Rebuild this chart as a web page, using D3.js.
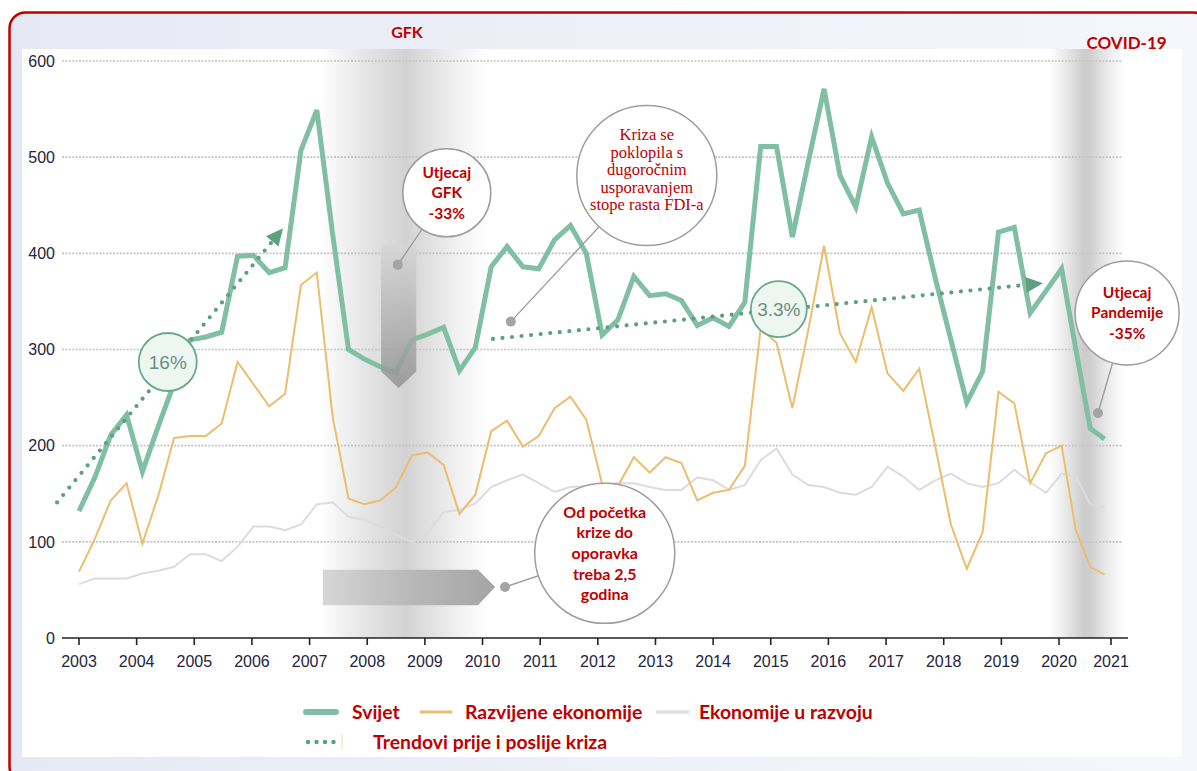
<!DOCTYPE html>
<html>
<head>
<meta charset="utf-8">
<script src="https://cdn.jsdelivr.net/npm/d3@7"></script>
<style>
  body { margin: 0; background: #fff; }
  svg { display: block; }
</style>
</head>
<body>
<svg width="1197" height="771"></svg>
<script>
// data: quarterly FDI flows (bn USD)
var startYear = 2003;
var stepYears = 0.275;   // spacing of observations along the axis
var svijet = [132, 167, 211, 232, 173, 220, 265, 310, 313, 318, 397, 398, 380, 385, 507, 549,
    420, 300, 290, 282, 276, 310, 316, 323, 278, 302, 386, 407, 386, 384, 414, 429,
    400, 315, 331, 376, 356, 358, 351, 325, 333, 324, 349, 511, 511, 417, 495, 571,
    481, 448, 521, 473, 441, 445, 375, 310, 245, 277, 422, 427, 338, 361, 384, 300,
    218, 207];
var razvijene = [69, 103, 143, 161, 98, 148, 208, 210, 210, 223, 287, 264, 241, 254, 367, 380,
    230, 145, 139, 143, 157, 190, 193, 180, 129, 149, 215, 226, 199, 210, 239, 251,
    227, 160, 158, 188, 172, 188, 182, 143, 151, 154, 179, 322, 307, 239, 320, 408,
    317, 287, 344, 275, 257, 280, 200, 118, 72, 110, 256, 244, 161, 192, 200, 112,
    74, 66];
var uRazvoju = [56, 62, 62, 62, 67, 70, 74, 87, 87, 80, 95, 116, 116, 112, 118, 139,
    141, 126, 123, 116, 107, 100, 109, 131, 133, 140, 157, 164, 170, 161, 152, 157,
    158, 160, 161, 161, 157, 154, 154, 167, 164, 154, 159, 185, 197, 170, 159, 157,
    151, 149, 157, 178, 168, 154, 164, 171, 161, 157, 161, 175, 162, 151, 171, 168,
    139, 136];
var trendBefore = [[2002.62, 141], [2006.54, 426]];
var trendAfter = [[2010.18, 311], [2019.72, 369]];
var yearTicks = d3.range(2003, 2022);
var valueTicks = [0, 100, 200, 300, 400, 500, 600];
var legendLabels = ["Svijet", "Razvijene ekonomije", "Ekonomije u razvoju", "Trendovi prije i poslije kriza"];

var red = "#c00000";
var green = "#80bfa4";
var orange = "#ecbd6e";
var grey = "#dcdcdc";
var trendGreen = "#5d9f80";

var svg = d3.select("svg");
var x = d3.scaleLinear().domain([2003, 2020, 2021]).range([79, 1059, 1111]);
var y = d3.scaleLinear().domain([0, 600]).range([638, 61]);
function obsYear(i) { return startYear + i * stepYears; }

var defs = svg.append("defs");
function hGrad(id, stops, vertical) {
    var g = defs.append("linearGradient").attr("id", id)
        .attr("x1", 0).attr("y1", 0).attr("x2", vertical ? 0 : 1).attr("y2", vertical ? 1 : 0);
    stops.forEach(function(s) {
        g.append("stop").attr("offset", s[0]).attr("stop-color", s[1]).attr("stop-opacity", s[2] == null ? 1 : s[2]);
    });
}
hGrad("bgGrad", [[0, "#e6e9f4"], [1, "#f6f7fb"]]);
hGrad("gfkGrad", [[0, "#d0d0d0", 0], [0.3, "#d8d8d8", 0.75], [0.5, "#cdcdcd", 0.9], [0.62, "#d6d6d6", 0.8], [1, "#e0e0e0", 0]]);
hGrad("covidGrad", [[0, "#d4d4d4", 0], [0.45, "#cdcdcd", 1], [0.55, "#cfcfcf", 1], [1, "#dedede", 0]]);
hGrad("vArrowGrad", [[0, "#d6d6d6"], [1, "#8e8e8e"]], true);
hGrad("hArrowGrad", [[0, "#d2d2d2"], [1, "#9a9a9a"]]);

// frame
svg.append("rect").attr("x", 9.5).attr("y", 12.5).attr("width", 1200).attr("height", 770)
    .attr("rx", 16).attr("fill", "url(#bgGrad)").attr("stroke", red).attr("stroke-width", 2.5);
svg.append("rect").attr("x", 22).attr("y", 49).attr("width", 1160).attr("height", 708).attr("fill", "#fff");

// crisis bands
svg.append("rect").attr("x", x(2007.2)).attr("y", 49).attr("width", x(2010.13) - x(2007.2))
    .attr("height", y(0) - 49).attr("fill", "url(#gfkGrad)");
svg.append("rect").attr("x", x(2019.83)).attr("y", 49).attr("width", x(2021.27) - x(2019.83))
    .attr("height", y(0) - 49).attr("fill", "url(#covidGrad)");

// grid
svg.append("g").selectAll("line").data(valueTicks.filter(function(d) { return d > 0; }))
    .enter().append("line")
    .attr("x1", 62).attr("x2", 1122)
    .attr("y1", function(d) { return y(d); }).attr("y2", function(d) { return y(d); })
    .attr("stroke", "#c4c4c4").attr("stroke-width", 1.6).attr("stroke-dasharray", "2,1.4");

// y labels
svg.append("g").selectAll("text").data(valueTicks).enter().append("text")
    .attr("x", 55).attr("y", function(d) { return y(d); }).attr("dy", "0.36em")
    .attr("text-anchor", "end")
    .style("font-family", "'Liberation Sans Narrow', 'Arial Narrow', sans-serif")
    .style("font-size", "16px").attr("fill", "#24243e")
    .text(function(d) { return d; });

// x axis
svg.append("line").attr("x1", 62).attr("x2", 1128).attr("y1", y(0)).attr("y2", y(0))
    .attr("stroke", "#222").attr("stroke-width", 1.6);
svg.append("g").selectAll("line").data(yearTicks).enter().append("line")
    .attr("x1", function(d) { return x(d); }).attr("x2", function(d) { return x(d); })
    .attr("y1", y(0)).attr("y2", y(0) + 7).attr("stroke", "#222").attr("stroke-width", 1.6);
svg.append("g").selectAll("text").data(yearTicks).enter().append("text")
    .attr("x", function(d) { return x(d); }).attr("y", 667)
    .attr("text-anchor", "middle")
    .style("font-family", "'Liberation Sans Narrow', 'Arial Narrow', sans-serif")
    .style("font-size", "16px").attr("fill", "#24243e")
    .text(function(d) { return d; });

// series
var line = d3.line()
    .x(function(d, i) { return x(obsYear(i)); })
    .y(function(d) { return y(d); });
svg.append("path").datum(uRazvoju).attr("d", line).attr("fill", "none")
    .attr("stroke", grey).attr("stroke-width", 2);
svg.append("path").datum(razvijene).attr("d", line).attr("fill", "none")
    .attr("stroke", orange).attr("stroke-width", 2);
svg.append("path").datum(svijet).attr("d", line).attr("fill", "none")
    .attr("stroke", green).attr("stroke-width", 5);

// trend lines with arrow heads
function trend(pts) {
    var p0 = [x(pts[0][0]), y(pts[0][1])], p1 = [x(pts[1][0]), y(pts[1][1])];
    var a = Math.atan2(p1[1] - p0[1], p1[0] - p0[0]);
    var len = 17, hw = 8;
    var base = [p1[0] - len * Math.cos(a), p1[1] - len * Math.sin(a)];
    svg.append("line").attr("x1", p0[0]).attr("y1", p0[1]).attr("x2", base[0]).attr("y2", base[1])
        .attr("stroke", trendGreen).attr("stroke-width", 4.2).attr("stroke-linecap", "round")
        .attr("stroke-dasharray", "0,9.6");
    svg.append("path")
        .attr("d", "M" + p1 + "L" + [base[0] + hw * Math.sin(a), base[1] - hw * Math.cos(a)] +
            "L" + [base[0] - hw * Math.sin(a), base[1] + hw * Math.cos(a)] + "Z")
        .attr("fill", trendGreen);
}
trend(trendBefore);
trend(trendAfter);

// crisis arrows
var va = { x0: 2008.24, x1: 2008.85, top: 409, bot: 277, tip: 260 };
svg.append("path").attr("d", "M" + x(va.x0) + "," + y(va.top) + "L" + x(va.x1) + "," + y(va.top) +
        "L" + x(va.x1) + "," + y(va.bot) + "L" + x((va.x0 + va.x1) / 2) + "," + y(va.tip) +
        "L" + x(va.x0) + "," + y(va.bot) + "Z")
    .attr("fill", "url(#vArrowGrad)").attr("opacity", 0.8);
var ha = { x0: 2007.23, x1: 2009.92, tip: 2010.22, top: 71, bot: 34, mid: 53 };
svg.append("path").attr("d", "M" + x(ha.x0) + "," + y(ha.top) + "L" + x(ha.x1) + "," + y(ha.top) +
        "L" + x(ha.tip) + "," + y(ha.mid) + "L" + x(ha.x1) + "," + y(ha.bot) +
        "L" + x(ha.x0) + "," + y(ha.bot) + "Z")
    .attr("fill", "url(#hArrowGrad)").attr("opacity", 0.9);

// callouts: circle centre, radius, dot the leader points to
var callouts = [
    { cx: 2009.38, cy: 463, r: 44, dot: [2008.53, 388], font: "bold", size: 15.5, gap: 20.5,
      lines: ["Utjecaj", "GFK", "-33%"] },
    { cx: 2012.85, cy: 481, r: 70, dot: [2010.49, 329], font: "serif", size: 16.5, gap: 17.5,
      lines: ["Kriza se", "poklopila s", "dugoročnim", "usporavanjem", "stope rasta FDI-a"], dy: -6 },
    { cx: 2012.12, cy: 88, r: 70, dot: [2010.39, 53], font: "bold", size: 16, gap: 20.7,
      lines: ["Od početka", "krize do", "oporavka", "treba 2,5", "godina"] },
    { cx: 2021.31, cy: 338, r: 52, dot: [2020.75, 234], font: "bold", size: 15.5, gap: 20.5,
      lines: ["Utjecaj", "Pandemije", "-35%"] }
];
callouts.forEach(function(c) {
    var cx = x(c.cx), cy = y(c.cy);
    svg.append("line").attr("x1", cx).attr("y1", cy).attr("x2", x(c.dot[0])).attr("y2", y(c.dot[1]))
        .attr("stroke", "#9a9a9a").attr("stroke-width", 1.3);
    svg.append("circle").attr("cx", x(c.dot[0])).attr("cy", y(c.dot[1])).attr("r", 5).attr("fill", "#a4a4a4");
    svg.append("circle").attr("cx", cx).attr("cy", cy).attr("r", c.r)
        .attr("fill", "#fff").attr("stroke", "#9d9d9d").attr("stroke-width", 1.5);
    var n = c.lines.length;
    svg.append("g").selectAll("text").data(c.lines).enter().append("text")
        .attr("x", cx)
        .attr("y", function(d, i) { return cy + (c.dy || 0) + (i - (n - 1) / 2) * c.gap; })
        .attr("dy", "0.35em").attr("text-anchor", "middle").attr("fill", red)
        .style("font-family", c.font === "serif" ? "'Liberation Serif', 'Times New Roman', serif" : "Lato, 'Open Sans', sans-serif")
        .style("font-weight", c.font === "serif" ? "normal" : "bold")
        .style("font-size", c.size + "px")
        .text(function(d) { return d; });
});

// growth-rate badges
var badges = [{ cx: 2004.54, cy: 287, r: 29, label: "16%" }, { cx: 2015.14, cy: 342, r: 28, label: "3.3%" }];
badges.forEach(function(b) {
    svg.append("circle").attr("cx", x(b.cx)).attr("cy", y(b.cy)).attr("r", b.r)
        .attr("fill", "#eef6f2").attr("stroke", "#6aa88c").attr("stroke-width", 1.8);
    svg.append("text").attr("x", x(b.cx)).attr("y", y(b.cy)).attr("dy", "0.36em")
        .attr("text-anchor", "middle").attr("fill", "#6a8f80")
        .style("font-family", "'Liberation Sans Narrow', 'Arial Narrow', sans-serif")
        .style("font-size", "19px").text(b.label);
});

// crisis titles
svg.append("text").attr("x", x(2008.69)).attr("y", 38).attr("text-anchor", "middle")
    .attr("fill", red).style("font-family", "Lato, sans-serif").style("font-weight", "bold")
    .style("font-size", "16px").text("GFK");
svg.append("text").attr("x", x(2021.3)).attr("y", 49).attr("text-anchor", "middle")
    .attr("fill", red).style("font-family", "Lato, sans-serif").style("font-weight", "bold")
    .style("font-size", "17px").text("COVID-19");

// legend
var legend = svg.append("g").style("font-family", "Lato, 'Open Sans', sans-serif")
    .style("font-weight", "bold").style("font-size", "19.4px").attr("fill", red);
var swatches = [
    { x0: 306, x1: 336, tx: 352, color: green, w: 6, label: legendLabels[0] },
    { x0: 421, x1: 451, tx: 465, color: orange, w: 3, label: legendLabels[1] },
    { x0: 657, x1: 688, tx: 699, color: grey, w: 3, label: legendLabels[2] }
];
swatches.forEach(function(s) {
    legend.append("line").attr("x1", s.x0).attr("x2", s.x1).attr("y1", 712).attr("y2", 712)
        .attr("stroke", s.color).attr("stroke-width", s.w).attr("stroke-linecap", "round");
    legend.append("text").attr("x", s.tx).attr("y", 712).attr("dy", "0.35em").text(s.label);
});
legend.append("line").attr("x1", 308).attr("x2", 336).attr("y1", 742).attr("y2", 742)
    .attr("stroke", trendGreen).attr("stroke-width", 4.5).attr("stroke-linecap", "round")
    .attr("stroke-dasharray", "0,8.5");
legend.append("line").attr("x1", 342).attr("x2", 342).attr("y1", 734).attr("y2", 750)
    .attr("stroke", "#eadfc0").attr("stroke-width", 1);
legend.append("text").attr("x", 373).attr("y", 742).attr("dy", "0.35em").text(legendLabels[3]);
</script>
</body>
</html>
